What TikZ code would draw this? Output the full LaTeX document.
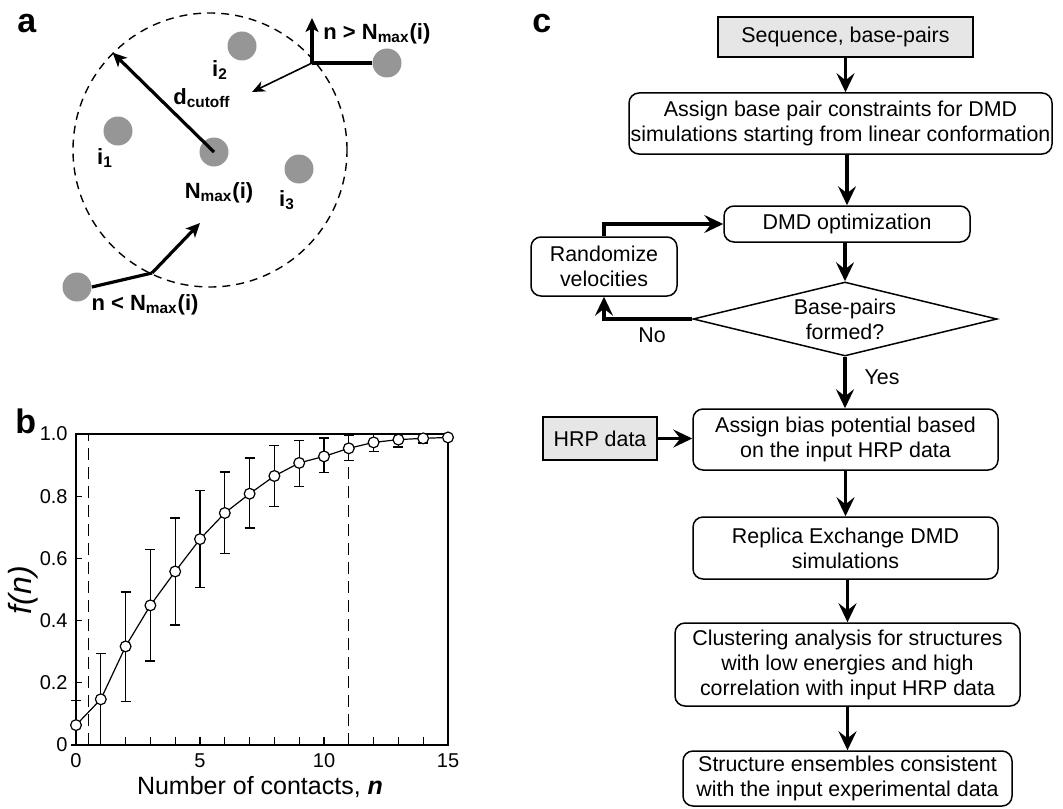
\documentclass[tikz,border=0pt]{standalone}
\usepackage{fontspec}
\setmainfont{Liberation Sans}
\usetikzlibrary{positioning,arrows.meta,calc,shapes.geometric}
\definecolor{inputcolor}{RGB}{230,230,230}
\definecolor{atomcolor}{RGB}{150,150,150}
\newcommand{\flowfont}{\fontsize{10.7}{12.5}\selectfont}
\newcommand{\atomfont}{\fontsize{11}{13}\selectfont\bfseries}
\newcommand{\panelfont}{\fontsize{17}{20}\selectfont\bfseries}
\newcommand{\tickfont}{\fontsize{10}{11}\selectfont}

\begin{document}
\begin{tikzpicture}[
  x=0.5pt, y=-0.5pt,
  arr/.style={-{Stealth[length=9.5pt,width=9pt,inset=3.5pt]},line width=1.6pt},
  vec/.style={-{Stealth[length=7pt,width=6.5pt,inset=1.8pt]},line width=1.6pt},
  thinvec/.style={-{Stealth[length=6.5pt,width=5.5pt,inset=2pt]},line width=0.8pt},
  proc/.style={draw,rounded corners=5pt,line width=0.75pt,align=center,font=\flowfont,inner sep=0pt},
  inbox/.style={draw,fill=inputcolor,line width=0.75pt,align=center,font=\flowfont,inner sep=0pt},
  decide/.style={draw,diamond,aspect=4,line width=0.75pt,align=center,font=\flowfont,inner sep=0pt},
  atom/.style={circle,fill=atomcolor,minimum size=14.5pt,inner sep=0pt},
  atomlabel/.style={font=\atomfont,inner sep=0pt},
  panel/.style={font=\panelfont,anchor=base west,inner sep=0pt},
  marker/.style={circle,draw,fill=white,line width=0.6pt,minimum size=5.4pt,inner sep=0pt},
]
\useasboundingbox (0,0) rectangle (1063,808);

% --- PANEL LETTERS ---
\node[panel] (pa) at (17,33) {a};
\node[panel] (pb) at (15,433) {b};
\node[panel] (pc) at (532,33) {c};

% --- A: CUTOFF SPHERE ---
\node[draw,circle,dash pattern=on 4pt off 3pt,line width=0.7pt,minimum size=137pt,inner sep=0pt] (cutoff) at (210,150) {};

\node[atom] (atomc) at (214,152) {};
\node[atom] (atom1) at (118,131) {};
\node[atom] (atom2) at (242,46) {};
\node[atom] (atom3) at (299,169) {};
\node[atom] (atomr) at (387,63) {};
\node[atom] (atoml) at (77,287) {};

\node[atomlabel] at (105,158) {i\textsubscript{1}};
\node[atomlabel] at (220,70) {i\textsubscript{2}};
\node[atomlabel] at (287,200) {i\textsubscript{3}};
\node[atomlabel] at (219,193) {N\textsubscript{max}(i)};
\node[atomlabel] at (202,98) {d\textsubscript{cutoff}};

\draw[vec] (atomc.center) -- (cutoff.135);

% incoming from outside, too many contacts
\coordinate (kinkr) at (312,63);
\coordinate (upr) at (312,18);
\coordinate (inr) at (252,92);
\draw[line width=1.6pt] (atomr.west) -- (kinkr);
\draw[vec] (kinkr) -- (upr);
\draw[thinvec] (kinkr) -- (inr);
\node[atomlabel,anchor=west] at (323,34) {n > N\textsubscript{max}(i)};

% incoming from outside, too few contacts
\coordinate (kinkl) at (152,273);
\coordinate (inl) at (200,223);
\draw[line width=1.6pt] (atoml.east) -- (kinkl);
\draw[vec] (kinkl) -- (inl);
\node[atomlabel] at (145,305) {n < N\textsubscript{max}(i)};

% --- B: f(n) PLOT ---
\begin{scope}[shift={(76,745)},x=12.4pt,y=155.5pt]
  \draw[line width=0.65pt] (0,0) rectangle (15,1);
  \foreach \n in {1,...,14} \draw[line width=0.6pt] (\n,0) -- ++(0pt,4pt);
  \foreach \v in {0.2,0.4,0.6,0.8} \draw[line width=0.6pt] (0,\v) -- ++(3pt,0pt);
  \foreach \n in {0,5,10,15}
    \node[font=\tickfont,anchor=north,inner sep=1pt,yshift=-3pt] (xt\n) at (\n,0) {\n};
  \foreach \v/\t in {0/0,0.2/0.2,0.4/0.4,0.6/0.6,0.8/0.8,1/1.0}
    \node[font=\tickfont,anchor=east,inner sep=1pt,xshift=-3pt] at (0,\v) {\t};
  \draw[dash pattern=on 6pt off 3.5pt,line width=0.6pt] (0.5,0) -- (0.5,1);
  \draw[dash pattern=on 6pt off 3.5pt,line width=0.6pt] (11,0) -- (11,1);
  % mean and spread
  \foreach \n/\f/\lo/\hi in {0/0.064/0/0.142,1/0.147/0/0.293,2/0.317/0.139/0.492,
      3/0.449/0.270/0.628,4/0.558/0.386/0.730,5/0.662/0.507/0.819,6/0.746/0.615/0.878,
      7/0.808/0.698/0.923,8/0.865/0.766/0.963,9/0.907/0.830/0.980,10/0.928/0.876/0.987,
      11/0.954/0.914/0.996,12/0.973/0.944/1.0,13/0.982/0.958/1.0,14/0.986/0.971/1.0} {
    \coordinate (c\n) at (\n,\f);
    \draw[line width=0.6pt] (\n,\lo) -- (\n,\hi)
      (\n,\lo) ++(-2.5pt,0pt) -- ++(5pt,0pt)
      (\n,\hi) ++(-2.5pt,0pt) -- ++(5pt,0pt);
  }
  \coordinate (c15) at (15,0.989);
  \draw[line width=0.6pt] (c0) \foreach \n in {1,...,15} { -- (c\n) };
  \foreach \n in {0,...,15} \node[marker] (m\n) at (c\n) {};
\end{scope}
\node[font=\fontsize{12.5}{14}\selectfont] (xlab) at (260,787) {Number of contacts, \textbf{\textit{n}}};
\node[font=\fontsize{16}{18}\selectfont,rotate=90] (ylab) at (23,590) {\textit{f(n)}};

% --- C: FLOWCHART ---
\node[inbox,minimum width=127.5pt,minimum height=20pt] (seq) at (845.5,37) {Sequence, base-pairs};
\node[proc,minimum width=211.5pt,minimum height=30.5pt] (bpc) at (840.5,123.5)
  {Assign base pair constraints for DMD\\simulations starting from linear conformation};
\node[proc,minimum width=123pt,minimum height=18pt] (dmd) at (847,224) {DMD optimization};
\node[proc,minimum width=73pt,minimum height=29.5pt] (rand) at (604,266.5) {Randomize\\velocities};
\node[decide,minimum width=152pt,minimum height=37pt] (formed) at (845,319) {Base-pairs\\formed?};
\node[proc,minimum width=152.5pt,minimum height=30.5pt] (bias) at (845.5,439.5)
  {Assign bias potential based\\on the input HRP data};
\node[inbox,minimum width=57pt,minimum height=21.5pt] (hrp) at (600,438.5) {HRP data};
\node[proc,minimum width=152.5pt,minimum height=31pt] (rex) at (845.5,548)
  {Replica Exchange DMD\\simulations};
\node[proc,minimum width=172.5pt,minimum height=41.5pt] (clust) at (847.5,664.5)
  {Clustering analysis for structures\\with low energies and high\\correlation with input HRP data};
\node[proc,minimum width=164.5pt,minimum height=27.5pt] (ens) at (847.5,778.5)
  {Structure ensembles consistent\\with the input experimental data};

\draw[arr] (seq.south) -- (seq.south |- bpc.north);
\draw[arr] (dmd.north |- bpc.south) -- (dmd.north);
\draw[arr] (formed.north |- dmd.south) -- (formed.north);
\draw[arr] (formed.south) -- (formed.south |- bias.north);
\node[font=\flowfont] (yes) at (882,377) {Yes};
\draw[arr] (formed.west) -| (rand.south);
\node[font=\flowfont] (no) at (652,335) {No};
\draw[arr] (rand.north) |- (dmd.west);
\draw[arr] (hrp.east) -- (hrp.east -| bias.west);
\draw[arr] (bias.south) -- (rex.north);
\draw[arr] (clust.north |- rex.south) -- (clust.north);
\draw[arr] (clust.south) -- (ens.north);

\end{tikzpicture}
\end{document}
